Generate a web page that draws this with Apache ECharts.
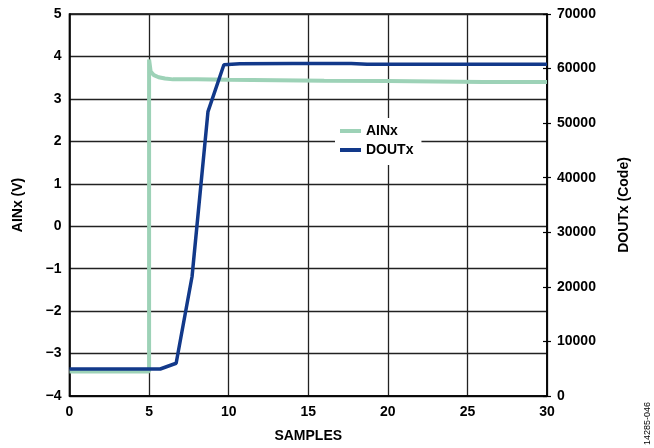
<!DOCTYPE html>
<html>
<head>
	<meta charset="utf-8" />
	<title>AINx / DOUTx</title>
	<script type="text/javascript" src="https://cdn.jsdelivr.net/npm/echarts@6/dist/echarts.min.js"></script>
	<style>
		html, body {margin:0;padding:0;background:#fff;}
		#chart {width:654px;height:448px;}
	</style>
</head>
<body>
	<div id="chart"></div>

	<script>
		// AINx (V) - [sample, volt]
		var ainSamples = [0, 5, 5, 5.1, 5.3, 5.6, 6, 6.5, 8, 10, 13, 16, 20, 23, 26, 30];
		var ainValues  = [-3.42, -3.42, 3.93, 3.64, 3.56, 3.51, 3.48, 3.46, 3.46, 3.45, 3.44, 3.43, 3.42, 3.41, 3.40, 3.40];

		// DOUTx (Code)
		var doutSamples = [0, 5.7, 6.7, 7.7, 8.7, 9.7, 10.7, 14, 17.7, 18.7, 24, 30];
		var doutValues  = [4950, 4950, 6000, 21900, 52100, 60700, 60900, 60950, 60950, 60780, 60780, 60780];

		var xTicks = {min: 0, max: 30, interval: 5};
		var leftTicks = {min: -4, max: 5, interval: 1};
		var rightTicks = {min: 0, max: 70000, interval: 10000};

		var FONT = '"Liberation Sans", Arial, sans-serif';

		var chart = echarts.init(document.getElementById('chart'));

		var labelStyle = {color: '#000', fontFamily: FONT, fontWeight: 'bold', fontSize: 14};

		var option = {
			animation: false,
			textStyle: {fontFamily: FONT},
			grid: {
				left: 69.5, right: 107, top: 14, bottom: 52,
				show: true, borderColor: '#000', borderWidth: 1.5
			},
			legend: {
				orient: 'vertical',
				left: 335, top: 118,
				padding: [6, 8, 8, 5],
				backgroundColor: '#fff',
				itemWidth: 21, itemHeight: 4, itemGap: 5,
				icon: 'rect',
				textStyle: labelStyle,
				data: ['AINx', 'DOUTx']
			},
			xAxis: {
				type: 'value',
				min: xTicks.min, max: xTicks.max, interval: xTicks.interval,
				name: 'SAMPLES', nameLocation: 'middle', nameGap: 33,
				nameTextStyle: labelStyle,
				axisLine: {onZero: false, lineStyle: {color: '#000', width: 1.5}},
				axisTick: {show: false},
				axisLabel: Object.assign({margin: 9}, labelStyle),
				splitLine: {show: true, lineStyle: {color: '#222', width: 1.3}}
			},
			yAxis: [
				{
					type: 'value', position: 'left',
					min: leftTicks.min, max: leftTicks.max, interval: leftTicks.interval,
					name: 'AINx (V)', nameLocation: 'middle', nameGap: 44,
					nameTextStyle: labelStyle,
					axisLine: {show: true, lineStyle: {color: '#000', width: 1.5}},
					axisTick: {show: false},
					axisLabel: Object.assign({
						margin: 8,
						formatter: function(v) { return v < 0 ? '\u2212' + Math.abs(v) : String(v); }
					}, labelStyle),
					splitLine: {show: true, lineStyle: {color: '#222', width: 1.3}}
				},
				{
					type: 'value', position: 'right',
					min: rightTicks.min, max: rightTicks.max, interval: rightTicks.interval,
					name: 'DOUTx (Code)', nameLocation: 'middle', nameGap: 70,
					nameTextStyle: labelStyle,
					axisLine: {show: true, lineStyle: {color: '#000', width: 1.5}},
					axisTick: {show: true, length: 4, lineStyle: {color: '#000', width: 1.2}},
					axisLabel: Object.assign({
						margin: 10,
						formatter: function(v) { return String(v); }
					}, labelStyle),
					splitLine: {show: false}
				},
				{
					// inside half of the right-axis tick marks
					type: 'value', position: 'right',
					min: rightTicks.min, max: rightTicks.max, interval: rightTicks.interval,
					axisLine: {show: false},
					axisTick: {show: true, inside: true, length: 4, lineStyle: {color: '#000', width: 1.2}},
					axisLabel: {show: false},
					splitLine: {show: false}
				}
			],
			series: [
				{
					name: 'AINx', type: 'line', yAxisIndex: 0,
					symbol: 'none',
					color: '#9dd2b7',
					lineStyle: {width: 4, color: '#9dd2b7'},
					data: ainSamples.map(function(s, i) { return [s, ainValues[i]]; })
				},
				{
					name: 'DOUTx', type: 'line', yAxisIndex: 1,
					symbol: 'none',
					color: '#12398a',
					lineStyle: {width: 3.5, color: '#12398a'},
					data: doutSamples.map(function(s, i) { return [s, doutValues[i]]; })
				}
			],
			graphic: [
				{
					type: 'text',
					x: 643, y: 445, rotation: Math.PI / 2,
					style: {text: '14285-046', fill: '#000', font: '9px ' + FONT}
				}
			]
		};

		chart.setOption(option);
	</script>
</body>
</html>
